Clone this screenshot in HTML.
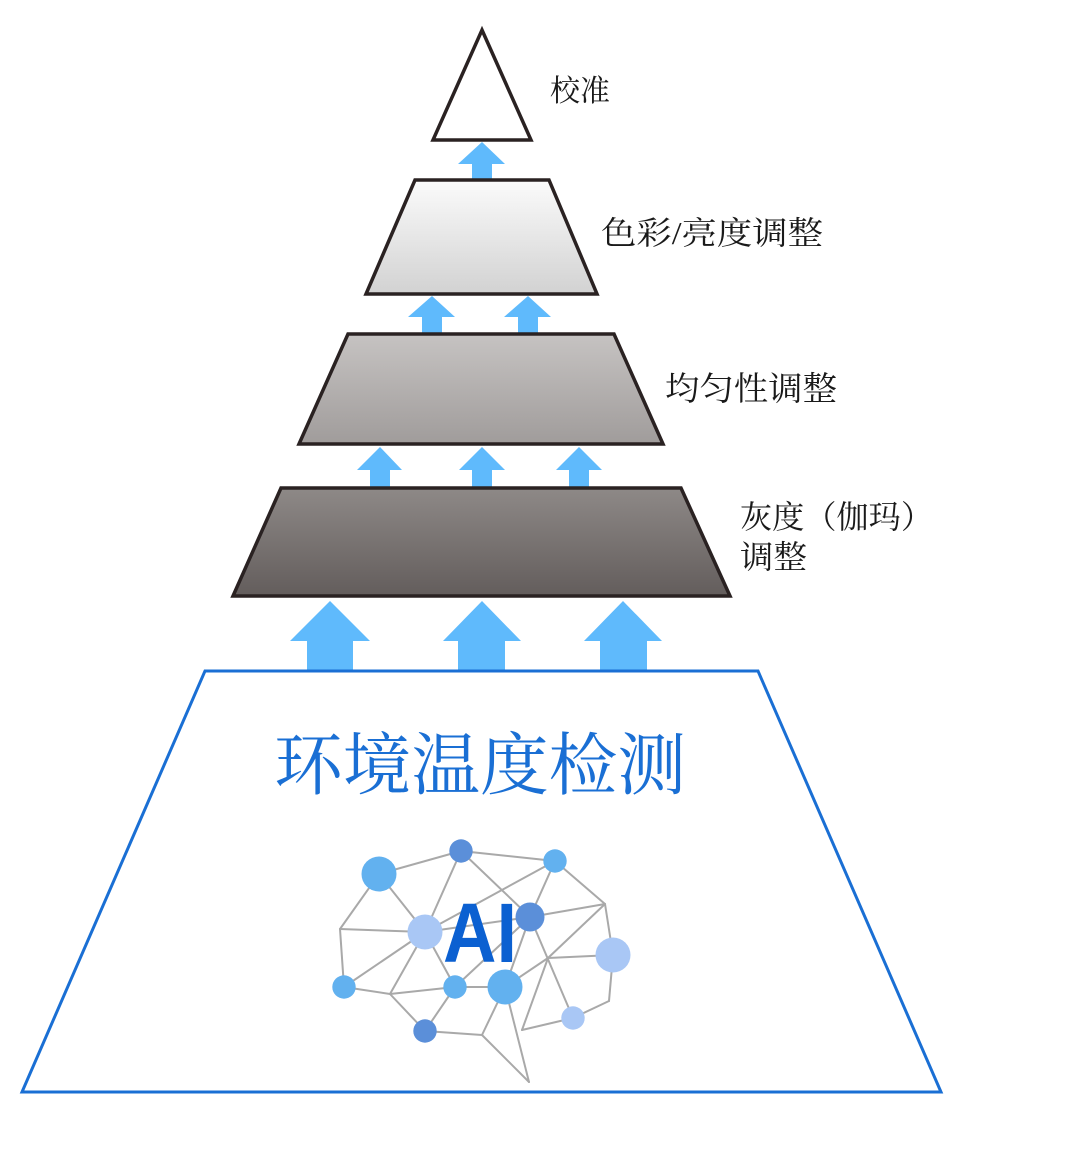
<!DOCTYPE html>
<html><head><meta charset="utf-8"><style>
html,body{margin:0;padding:0;background:#fff;}
svg{display:block;}
.lbl{font-family:"Liberation Serif","Noto Serif CJK SC",serif;fill:#1a1a1a;}
</style></head><body>
<svg width="1080" height="1153" viewBox="0 0 1080 1153" xmlns="http://www.w3.org/2000/svg">
<defs>
<linearGradient id="g1" x1="0" y1="0" x2="0" y2="1"><stop offset="0" stop-color="#fbfbfb"/><stop offset="1" stop-color="#d2d2d2"/></linearGradient>
<linearGradient id="g2" x1="0" y1="0" x2="0" y2="1"><stop offset="0" stop-color="#c6c3c2"/><stop offset="1" stop-color="#a09c9b"/></linearGradient>
<linearGradient id="g3" x1="0" y1="0" x2="0" y2="1"><stop offset="0" stop-color="#8e8987"/><stop offset="1" stop-color="#635d5c"/></linearGradient>
</defs>

<!-- arrows -->
<g fill="#5fbafc">
<polygon points="482,142 505,164 492,164 492,180 472,180 472,164 458,164"/>
<polygon points="432,296 455,317 442,317 442,334 422,334 422,317 408,317"/>
<polygon points="528,296 551,317 538,317 538,334 518,334 518,317 504,317"/>
<polygon points="380,447 402,470 390,470 390,488 370,488 370,470 357,470"/>
<polygon points="482,447 505,470 492,470 492,488 472,488 472,470 459,470"/>
<polygon points="579,447 602,470 589,470 589,488 569,488 569,470 556,470"/>
<polygon points="330,601 370,641 353,641 353,671 307,671 307,641 290,641"/>
<polygon points="482,601 521,641 505,641 505,671 458,671 458,641 443,641"/>
<polygon points="623,601 662,641 647,641 647,671 600,671 600,641 584,641"/>
</g>

<!-- pyramid -->
<polygon points="482,30 531,140 433,140" fill="#fff" stroke="#2a2222" stroke-width="3.5" stroke-linejoin="miter"/>
<polygon points="415,180 549,180 597,294 366,294" fill="url(#g1)" stroke="#2a2222" stroke-width="3.5"/>
<polygon points="348,334 614,334 663,444 299,444" fill="url(#g2)" stroke="#2a2222" stroke-width="3.5"/>
<polygon points="281,488 681,488 730,596 233,596" fill="url(#g3)" stroke="#2a2222" stroke-width="3.5"/>

<!-- labels -->
<text class="lbl" x="550" y="101" font-size="30" textLength="60" lengthAdjust="spacingAndGlyphs">校准</text>
<text class="lbl" x="601" y="244" font-size="32" textLength="222" lengthAdjust="spacingAndGlyphs">色彩/亮度调整</text>
<text class="lbl" x="665" y="400" font-size="33" textLength="172" lengthAdjust="spacingAndGlyphs">均匀性调整</text>
<text class="lbl" x="740" y="528" font-size="32" textLength="193" lengthAdjust="spacingAndGlyphs">灰度（伽玛）</text>
<text class="lbl" x="740" y="568" font-size="32" textLength="67" lengthAdjust="spacingAndGlyphs">调整</text>

<!-- base -->
<polygon points="205,671 758,671 941,1092 22,1092" fill="#fff" stroke="#1a6fd4" stroke-width="3"/>
<text x="274" y="789" font-size="68" fill="#1a6fd4" font-family="Liberation Serif,'Noto Serif CJK SC',serif" textLength="412" lengthAdjust="spacingAndGlyphs">环境温度检测</text>

<!-- brain network -->
<g stroke="#a9a9a9" stroke-width="2" fill="none" stroke-linecap="round">
<line x1="379" y1="874" x2="461" y2="851"/>
<line x1="461" y1="851" x2="555" y2="861"/>
<line x1="379" y1="874" x2="340" y2="929"/>
<line x1="379" y1="874" x2="425" y2="932"/>
<line x1="340" y1="929" x2="425" y2="932"/>
<line x1="340" y1="929" x2="344" y2="987"/>
<line x1="344" y1="987" x2="425" y2="932"/>
<line x1="344" y1="987" x2="390" y2="994"/>
<line x1="390" y1="994" x2="425" y2="932"/>
<line x1="390" y1="994" x2="455" y2="987"/>
<line x1="390" y1="994" x2="425" y2="1031"/>
<line x1="425" y1="932" x2="461" y2="851"/>
<line x1="461" y1="851" x2="530" y2="917"/>
<line x1="425" y1="932" x2="555" y2="861"/>
<line x1="425" y1="932" x2="530" y2="917"/>
<line x1="425" y1="932" x2="455" y2="987"/>
<line x1="555" y1="861" x2="530" y2="917"/>
<line x1="555" y1="861" x2="605" y2="904"/>
<line x1="530" y1="917" x2="605" y2="904"/>
<line x1="605" y1="904" x2="613" y2="955"/>
<line x1="605" y1="904" x2="548" y2="958"/>
<line x1="548" y1="958" x2="522" y2="1030"/>
<line x1="530" y1="917" x2="573" y2="1018"/>
<line x1="548" y1="958" x2="613" y2="955"/>
<line x1="613" y1="955" x2="609" y2="1001"/>
<line x1="609" y1="1001" x2="573" y2="1018"/>
<line x1="573" y1="1018" x2="522" y2="1030"/>
<line x1="505" y1="987" x2="548" y2="958"/>
<line x1="505" y1="987" x2="530" y2="917"/>
<line x1="455" y1="987" x2="505" y2="987"/>
<line x1="455" y1="987" x2="425" y2="1031"/>
<line x1="455" y1="987" x2="530" y2="917"/>
<line x1="425" y1="1031" x2="482" y2="1035"/>
<line x1="482" y1="1035" x2="505" y2="987"/>
<line x1="482" y1="1035" x2="529" y2="1082"/>
<line x1="505" y1="987" x2="529" y2="1082"/>
</g>
<g>
<circle cx="379" cy="874" r="17.5" fill="#62b1ef"/>
<circle cx="461" cy="851" r="11.7" fill="#5b8fd9"/>
<circle cx="555" cy="861" r="11.7" fill="#62b1ef"/>
<circle cx="425" cy="932" r="17.5" fill="#a9c7f5"/>
<circle cx="530" cy="917" r="14.5" fill="#5b8fd9"/>
<circle cx="613" cy="955" r="17.5" fill="#a9c7f5"/>
<circle cx="344" cy="987" r="11.7" fill="#62b1ef"/>
<circle cx="455" cy="987" r="11.7" fill="#62b1ef"/>
<circle cx="505" cy="987" r="17.5" fill="#62b1ef"/>
<circle cx="425" cy="1031" r="11.7" fill="#5b8fd9"/>
<circle cx="573" cy="1018" r="11.7" fill="#a9c7f5"/>
</g>
<text x="443" y="962" font-size="84" font-weight="bold" fill="#0b60d1" font-family="Liberation Sans,sans-serif" textLength="74" lengthAdjust="spacingAndGlyphs">AI</text>
</svg>
</body></html>
